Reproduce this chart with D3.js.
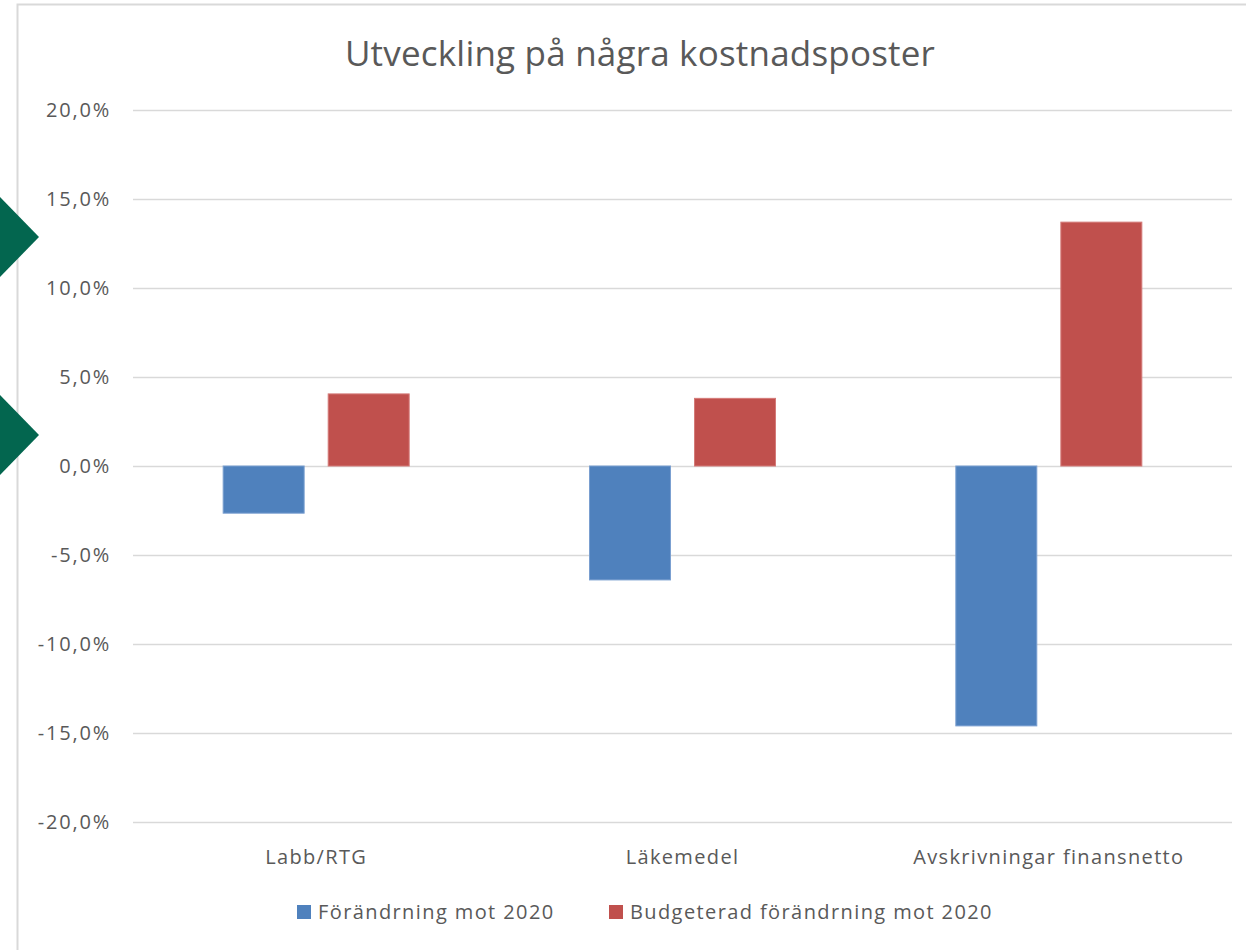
<!DOCTYPE html>
<html><head><meta charset="utf-8">
<script src="https://cdn.jsdelivr.net/npm/d3@7"></script>
<style>html,body{margin:0;padding:0;background:#fff;overflow:hidden}</style>
</head><body>
<svg id="c" width="1246" height="950"></svg>
<script>
const categories = ["Labb/RTG", "Läkemedel", "Avskrivningar finansnetto"];
const seriesNames = ["Förändrning mot 2020", "Budgeterad förändrning mot 2020"];
const forandring = [-2.65, -6.4, -14.6];
const budgeterad = [4.05, 3.8, 13.7];
const yTicks = [-20, -15, -10, -5, 0, 5, 10, 15, 20];
const title = "Utveckling på några kostnadsposter";

const colors = ["#4f81bd", "#c0504d"];
const strokes = ["#7a9fd0", "#d47a78"];
const font = "'Open Sans', sans-serif";
const svg = d3.select("#c");

// frame
svg.append("rect").attr("x", 0).attr("y", 0).attr("width", 1246).attr("height", 950).attr("fill", "#fff");
svg.append("path").attr("d", "M17.5,950 V4.5 H1246").attr("fill", "none").attr("stroke", "#d9d9d9").attr("stroke-width", 2);

// decorative arrows
[237, 435].forEach(cy => {
  svg.append("path").attr("d", `M0,${cy-40} L39,${cy} L0,${cy+40} Z`).attr("fill", "#03664f");
});

const pLeft = 133, pRight = 1232, pTop = 110, pBottom = 822;
const y = d3.scaleLinear().domain([-20, 20]).range([pBottom, pTop]);
const x0 = d3.scaleBand().domain(categories).range([pLeft, pRight]).padding(0);
const groupW = 186;
const x1 = d3.scaleBand().domain(seriesNames)
  .range([(x0.bandwidth() - groupW) / 2, (x0.bandwidth() + groupW) / 2]).paddingInner(0.229);

// title
svg.append("text").attr("x", 640).attr("y", 66).attr("text-anchor", "middle")
  .attr("font-family", font).attr("font-size", 35).attr("letter-spacing", 0.2)
  .attr("fill", "#595959").text(title);

// grid
const grid = svg.append("g").attr("transform", `translate(${pLeft},0)`)
  .call(d3.axisLeft(y).tickValues(yTicks).tickSize(-(pRight - pLeft)).tickFormat(""));
grid.select(".domain").remove();
grid.selectAll("line").attr("stroke", "#d9d9d9").attr("stroke-width", 1.5);

// y labels
const yAxis = svg.append("g").attr("transform", `translate(111,0)`)
  .call(d3.axisLeft(y).tickValues(yTicks).tickSize(0).tickPadding(0)
    .tickFormat(d => d3.format(".1f")(d).replace(".", ",").replace("−", "-") + "%"));
yAxis.select(".domain").remove();
yAxis.selectAll("text").attr("font-family", font).attr("font-size", 20).attr("letter-spacing", 1.8)
  .attr("fill", "#595959");

// bars
const data = categories.map((c, i) => ({ c, vals: [forandring[i], budgeterad[i]] }));
const g = svg.append("g").selectAll("g").data(data).join("g")
  .attr("transform", d => `translate(${x0(d.c)},0)`);
g.selectAll("rect").data(d => d.vals.map((v, j) => ({ v, s: seriesNames[j], j }))).join("rect")
  .attr("x", d => x1(d.s)).attr("width", x1.bandwidth())
  .attr("y", d => y(Math.max(0, d.v))).attr("height", d => Math.abs(y(d.v) - y(0)))
  .attr("fill", d => colors[d.j]).attr("stroke", d => strokes[d.j]).attr("stroke-width", 1);

// x labels
const xAxis = svg.append("g").attr("transform", `translate(0,${pBottom})`)
  .call(d3.axisBottom(x0).tickSize(0).tickPadding(28));
xAxis.select(".domain").remove();
xAxis.selectAll("text").attr("font-family", font).attr("font-size", 20).attr("letter-spacing", 1.35)
  .attr("fill", "#595959");

// legend
const legendX = [297, 609];
const lg = svg.append("g").selectAll("g").data(seriesNames).join("g")
  .attr("transform", (d, i) => `translate(${legendX[i]},912)`);
lg.append("rect").attr("x", 0).attr("y", -7).attr("width", 14).attr("height", 14).attr("fill", (d, i) => colors[i]);
lg.append("text").attr("x", 21).attr("y", 0).attr("dy", "0.35em")
  .attr("font-family", font).attr("font-size", 20).attr("letter-spacing", 1.4)
  .attr("fill", "#595959").text(d => d);
</script>
</body></html>
